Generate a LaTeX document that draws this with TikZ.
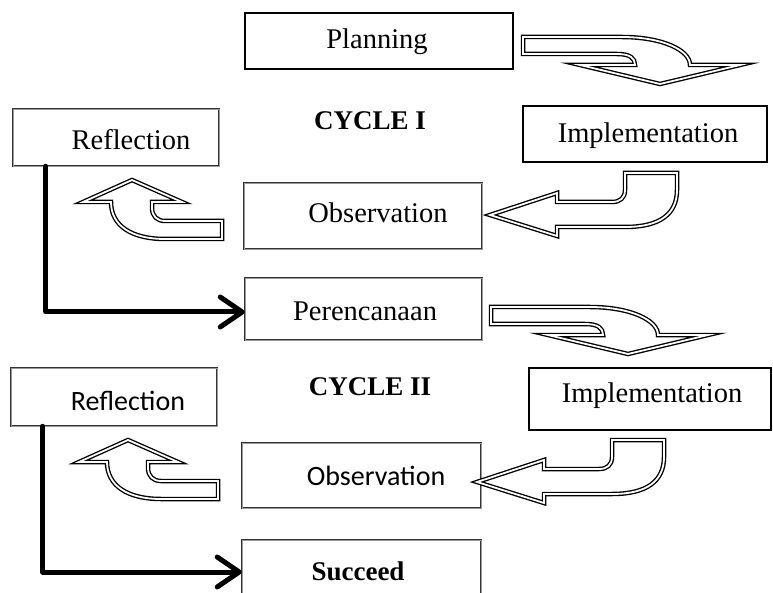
\documentclass[tikz,border=0pt]{standalone}
\usepackage{fontspec}
\setmainfont{Liberation Serif}
\newfontfamily\calibri{Carlito}
\usetikzlibrary{arrows.meta}
\tikzset{
  pbox/.style={draw=black, line width=1.3pt, inner sep=0pt},
  gbox/.style={draw=black!80, line width=0.6pt, double=black!40, double distance=0.9pt, inner sep=0pt},
  txt/.style={anchor=base, inner sep=0pt, font=\fontsize{28.5}{32}\selectfont},
  ctxt/.style={anchor=base, inner sep=0pt, font=\calibri\fontsize{28}{32}\selectfont},
  btxt/.style={anchor=base, inner sep=0pt, font=\bfseries\fontsize{27}{32}\selectfont},
  blk/.style={draw=black, line width=1.35pt, double=white, double distance=1.8pt, fill=white, line join=miter},
  flow/.style={line width=5pt, line join=round, line cap=round, -{Straight Barb[length=22pt,width=30pt,round]}},
  pics/curvdown/.style={code={
    \draw[blk] (523,37) -- (622,37) .. controls (662,37) and (690,50) .. (690,65) -- (740,65) -- (660,84) -- (580,65) -- (635,65) .. controls (635,58) and (630,54) .. (617,54) -- (523,54) -- cycle;}},
  pics/curvleft/.style={code={
    \draw[blk] (625,173) -- (677,173) -- (677,190) .. controls (677,214) and (660,227) .. (625,227) -- (557,227) -- (557,236) -- (490,215) -- (557,193) -- (557,202) -- (612,202) .. controls (620,202) and (625,198) .. (625,190) -- cycle;}},
  pics/curvup/.style={code={
    \draw[blk] (222,221) -- (165,221) .. controls (157,221) and (152,216) .. (152,208) -- (152,202) -- (182,202) -- (132,180) -- (83,202) -- (111,202) .. controls (111,226) and (132,239) .. (165,239) -- (222,239) -- cycle;}}
}
\begin{document}
\begin{tikzpicture}[x=1pt,y=-1pt]
\useasboundingbox (0,0) rectangle (773,593);
\clip (0,0) rectangle (773,593);
\fill[white] (0,0) rectangle (773,593);
% boxes
\node[pbox, minimum width=268pt, minimum height=56pt] (plan) at (379,41) {};
\node[pbox, minimum width=244pt, minimum height=56pt] (impl1) at (645,134) {};
\node[gbox, minimum width=206pt, minimum height=57pt] (refl1) at (116,137.5) {};
\node[gbox, minimum width=238pt, minimum height=66pt] (obs1) at (363,216) {};
\node[gbox, minimum width=237pt, minimum height=62pt] (pere) at (363.5,309) {};
\node[gbox, minimum width=206pt, minimum height=58pt] (refl2) at (114,397) {};
\node[pbox, minimum width=242pt, minimum height=62pt] (impl2) at (650,399) {};
\node[gbox, minimum width=239pt, minimum height=65pt] (obs2) at (361.5,475.5) {};
\node[gbox, minimum width=239pt, minimum height=64pt] (succ) at (361.5,572) {};
% texts
\node[txt] (tplan) at (377,49) {Planning};
\node[txt] (timpl1) at (648,143) {Implementation};
\node[txt] (trefl1) at (131,150) {Reflection};
\node[btxt] (cyc1) at (370,130) {CYCLE I};
\node[txt] (tobs1) at (378,223) {Observation};
\node[txt] (tpere) at (365,320) {Perencanaan};
\node[ctxt] (trefl2) at (128,410) {Reflection};
\node[btxt] (cyc2) at (370,395) {CYCLE II};
\node[txt] (timpl2) at (652,402) {Implementation};
\node[ctxt] (tobs2) at (376,485) {Observation};
\node[btxt] (tsucc) at (358,580) {Succeed};
% block arrows
\pic at (0,0) {curvdown};
\pic at (0,0) {curvleft};
\pic at (0,0) {curvup};
\pic at (-32,270) {curvdown};
\pic at (-13,267) {curvleft};
\pic at (-4,260) {curvup};
% thick connectors
\draw[flow] ([xshift=33pt]refl1.south west) |- ([yshift=-3pt]pere.west);
\draw[flow] ([xshift=32pt]refl2.south west) |- (succ.west);
\end{tikzpicture}
\end{document}
